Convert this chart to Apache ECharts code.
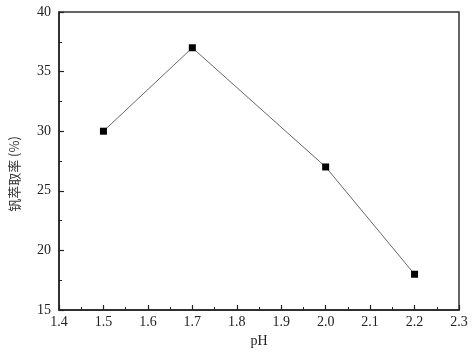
<!DOCTYPE html>
<html><head><meta charset="utf-8">
<script src="https://cdn.jsdelivr.net/npm/echarts@6/dist/echarts.min.js"></script>
<style>html,body{margin:0;padding:0;background:#fff}#c{width:472px;height:353px}</style>
</head><body><div id="c"></div>
<script>
var phValues = [1.5, 1.7, 2.0, 2.2];
var extraction = [30, 37, 27, 18];
var xTitle = 'pH';
var yTitle = '钒萃取率 (%)';
var font = '"Liberation Serif", "Times New Roman", serif';
var chart = echarts.init(document.getElementById('c'), null, {renderer: 'canvas'});
var axisCommon = {
  axisLine: {show: true, lineStyle: {color: '#222', width: 1.5}},
  axisTick: {show: true, inside: true, length: 5, lineStyle: {color: '#222', width: 1.2}},
  minorTick: {show: true, splitNumber: 2, length: 3, lineStyle: {color: '#222', width: 1}},
  splitLine: {show: false},
  axisLabel: {color: '#222', fontFamily: font, fontSize: 14}
};
chart.setOption({
  animation: false,
  grid: {left: 54, right: 13, top: 12, bottom: 40, show: true, borderColor: '#333', borderWidth: 1.5, containLabel: false},
  xAxis: Object.assign({}, axisCommon, {
    type: 'value', min: 1.4, max: 2.3, interval: 0.1,
    name: xTitle, nameLocation: 'middle', nameGap: 24,
    nameTextStyle: {fontFamily: font, fontSize: 14, color: '#222'},
    axisLabel: Object.assign({}, axisCommon.axisLabel, {margin: 5, formatter: function(v){return v.toFixed(1);}})
  }),
  yAxis: Object.assign({}, axisCommon, {
    type: 'value', min: 15, max: 40, interval: 5,
    name: yTitle, nameLocation: 'middle', nameGap: 38, nameRotate: 90,
    nameTextStyle: {fontFamily: '"Noto Sans CJK SC", ' + font, fontSize: 13, color: '#333', padding: [0, 26, 0, 0]},
    axisLabel: Object.assign({}, axisCommon.axisLabel, {margin: 8})
  }),
  series: [{
    type: 'line',
    data: phValues.map(function(x, i){return [x, extraction[i]];}),
    symbol: 'rect', symbolSize: 7,
    itemStyle: {color: '#000'},
    lineStyle: {color: '#666', width: 1}
  }]
});
</script></body></html>
